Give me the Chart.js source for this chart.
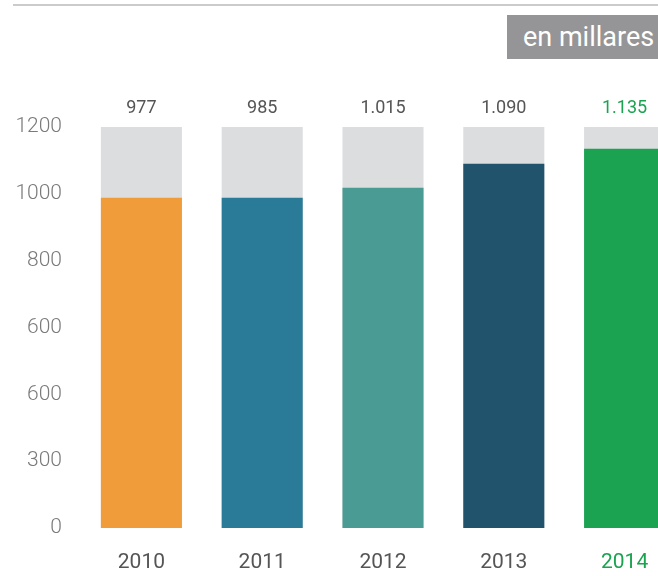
<!DOCTYPE html>
<html>
<head>
<meta charset="utf-8">
<script src="https://cdn.jsdelivr.net/npm/chart.js@4/dist/chart.umd.min.js"></script>
<style>
  html, body { margin: 0; padding: 0; background: #fff; overflow: hidden; }
  #wrap { position: relative; width: 658px; height: 576px; overflow: hidden; }
  #topline { position: absolute; left: 13px; top: 4px; width: 645px; height: 2px; background: #cbcbcd; }
  #unit {
    position: absolute; left: 507px; top: 15px; width: 135px; height: 44px;
    padding-left: 16px;
    background: #959597; color: #fff; font: 400 27px Roboto, sans-serif;
    line-height: 44px; text-align: left; white-space: nowrap;
  }
  #myChart { position: absolute; left: 0; top: 0; }
</style>
</head>
<body>
<div id="wrap">
  <div id="topline"></div>
  <div id="unit">en millares</div>
  <canvas id="myChart" width="700" height="576"></canvas>
</div>
<script>
    const years = ['2010', '2011', '2012', '2013', '2014']
    const values = [988, 988, 1018, 1090, 1135]
    const valueLabels = ['977', '985', '1.015', '1.090', '1.135']
    const totals = [1200, 1200, 1200, 1200, 1200]
    const yTickLabels = ['0', '300', '600', '600', '800', '1000', '1200']
    const barColors = ['#f09c3b', '#2a7b98', '#4a9b93', '#22536c', '#1ba352']
    const textColors = ['#555555', '#555555', '#555555', '#555555', '#1ba352']

    // numbers above each bar
    const valueLabelPlugin = {
        id: 'valueLabels',
        afterDatasetsDraw(chart) {
            const ctx = chart.ctx
            const meta = chart.getDatasetMeta(1)
            ctx.save()
            ctx.font = '400 18px Roboto, sans-serif'
            ctx.textAlign = 'center'
            ctx.textBaseline = 'middle'
            meta.data.forEach((bar, i) => {
                ctx.fillStyle = textColors[i]
                ctx.fillText(valueLabels[i], bar.x, chart.chartArea.top - 19)
            })
            ctx.restore()
        }
    }

    const ctx = document.getElementById('myChart').getContext('2d')

    new Chart(ctx, {
        type: 'bar',
        data: {
            labels: years,
            datasets: [{
                data: totals,
                backgroundColor: '#dcdddf',
                grouped: false,
                order: 2
            }, {
                data: values,
                backgroundColor: barColors,
                grouped: false,
                order: 1
            }]
        },
        options: {
            responsive: false,
            animation: false,
            layout: { padding: { top: 127, bottom: 2, left: 0, right: 15 } },
            plugins: {
                legend: { display: false },
                tooltip: { enabled: false }
            },
            datasets: {
                bar: { categoryPercentage: 1, barPercentage: 0.671 }
            },
            scales: {
                x: {
                    afterFit: (scale) => { scale.height = 46 },
                    grid: { display: false, drawTicks: false },
                    border: { display: false },
                    ticks: {
                        padding: 22,
                        color: textColors,
                        font: { family: 'Roboto', size: 21, weight: '400' }
                    }
                },
                y: {
                    min: 0,
                    max: 1200,
                    afterFit: (scale) => { scale.width = 81 },
                    grid: { display: false, drawTicks: false },
                    border: { display: false },
                    ticks: {
                        stepSize: 200,
                        padding: 19,
                        color: '#7a7a7a',
                        font: { family: 'Roboto', size: 21, weight: '300' },
                        callback: (value, index) => yTickLabels[index]
                    }
                }
            }
        },
        plugins: [valueLabelPlugin]
    })
</script>
</body>
</html>
